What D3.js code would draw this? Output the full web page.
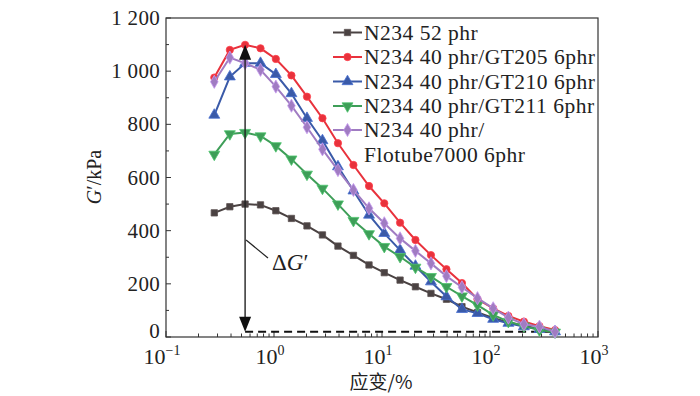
<!DOCTYPE html>
<html><head><meta charset="utf-8">
<script src="https://cdn.jsdelivr.net/npm/d3@7"></script>
<style>body{margin:0;background:#fff}svg{display:block}</style>
</head><body>
<script>
const strain = [0.28, 0.39, 0.54, 0.75, 1.04, 1.45, 2.02, 2.81, 3.91, 5.44, 7.58, 10.5, 14.7, 20.4, 28.4, 39.5, 55.0, 76.6, 107, 148, 206, 287, 400];
const n234_52 = [467, 490, 500, 497, 475, 446, 418, 384, 342, 307, 271, 242, 214, 189, 164, 142, 114, 92, 72, 55, 42, 30, 20];
const gt205 = [976, 1080, 1099, 1086, 1046, 984, 904, 823, 729, 647, 568, 503, 430, 365, 308, 255, 203, 142, 108, 79, 58, 41, 26];
const gt210 = [835, 979, 1030, 1030, 988, 916, 823, 739, 641, 550, 459, 390, 327, 267, 208, 152, 104, 89, 67, 52, 39, 29, 20];
const gt211 = [687, 764, 769, 756, 719, 669, 612, 559, 500, 438, 388, 340, 302, 262, 227, 189, 154, 120, 83, 58, 41, 26, 18];
const flotube = [960, 1051, 1030, 1005, 942, 870, 789, 706, 628, 553, 484, 428, 371, 324, 277, 229, 187, 146, 108, 73, 48, 39, 20];
const seriesNames = ["N234 52 phr", "N234 40 phr/GT205 6phr", "N234 40 phr/GT210 6phr", "N234 40 phr/GT211 6phr", "N234 40 phr/|Flotube7000 6phr"];
const yTicks = [0, 200, 400, 600, 800, 1000, 1200];
const yTickLabels = ["0", "200", "400", "600", "800", "1 000", "1 200"];
const xTicks = [0.1, 1, 10, 100, 1000];
const xTickExp = ["\u22121", "0", "1", "2", "3"];
const baselineG = 20;   // dashed reference level
const arrowStrain = 0.54;

const W = 700, H = 396;
const svg = d3.select("body").append("svg").attr("width", W).attr("height", H);
const x = d3.scaleLog().domain([0.1, 1000]).range([166, 598]);
const y = d3.scaleLinear().domain([0, 1200]).range([337, 18]);
const serif = "'Liberation Serif','Times New Roman',serif";

const series = [
  {v: n234_52, color: "#4a4242", sym: d3.symbolSquare, size: 40, rot: 0},
  {v: gt205, color: "#e8323c", sym: d3.symbolCircle, size: 42, rot: 0},
  {v: gt210, color: "#3a5aa8", sym: d3.symbolTriangle, size: 52, rot: 0},
  {v: gt211, color: "#3e9e58", sym: d3.symbolTriangle, size: 52, rot: 180},
  {v: flotube, color: "#a07cc2", sym: d3.symbolDiamond, size: 50, rot: 0}
];

// axes box
const g = svg.append("g");
g.append("rect").attr("x", 166).attr("y", 18).attr("width", 432).attr("height", 319)
  .attr("fill", "none").attr("stroke", "#333").attr("stroke-width", 1.2);

// y ticks (inward)
const yMinor = d3.range(0, 1201, 100);
g.selectAll(".ytk").data(yMinor).join("line")
  .attr("x1", 166).attr("x2", d => d % 200 === 0 ? 171 : 169)
  .attr("y1", d => y(d)).attr("y2", d => y(d)).attr("stroke", "#333").attr("stroke-width", 1);
g.selectAll(".ytl").data(yTicks).join("text")
  .attr("x", 160).attr("y", d => d === 0 ? y(d) + 1 : y(d) + 7).attr("text-anchor", "end")
  .attr("font-family", serif).attr("font-size", 21).attr("letter-spacing", 0.3).attr("fill", "#222")
  .text((d, i) => yTickLabels[i]);

// x ticks
const xMinor = [];
for (let e = -1; e < 3; e++) for (let k = 1; k <= 9; k++) xMinor.push(k * Math.pow(10, e));
xMinor.push(1000);
g.selectAll(".xtk").data(xMinor).join("line")
  .attr("x1", d => x(d)).attr("x2", d => x(d))
  .attr("y1", 337).attr("y2", d => xTicks.includes(d) ? 331 : 333.5)
  .attr("stroke", "#333").attr("stroke-width", 1);
const xl = g.selectAll(".xtl").data(xTicks).join("text")
  .attr("x", d => x(d) - 4).attr("y", 364).attr("text-anchor", "middle")
  .attr("font-family", serif).attr("font-size", 22).attr("fill", "#222");
xl.append("tspan").text("10");
xl.append("tspan").attr("dy", -9).attr("font-size", 14).text((d, i) => xTickExp[i]);

// axis titles
svg.append("text").attr("transform", "translate(101,177) rotate(-90)")
  .attr("text-anchor", "middle").attr("font-family", serif).attr("font-size", 20).attr("fill", "#222")
  .call(t => { t.append("tspan").attr("font-style", "italic").text("G"); t.append("tspan").text("\u2032/kPa"); });
svg.append("text").attr("x", 381).attr("y", 389).attr("text-anchor", "middle")
  .attr("font-family", "'Noto Sans CJK SC',sans-serif").attr("font-size", 19).attr("fill", "#222").text("应变/%");

// dashed baseline
svg.append("line").attr("x1", x(arrowStrain)).attr("x2", x(400)).attr("y1", y(baselineG)).attr("y2", y(baselineG))
  .attr("stroke", "#111").attr("stroke-width", 2).attr("stroke-dasharray", "8,5");

// series
const line = d3.line().x((d, i) => x(strain[i])).y(d => y(d));
series.forEach(s => {
  svg.append("path").datum(s.v).attr("d", line).attr("fill", "none")
    .attr("stroke", s.color).attr("stroke-width", 2);
  svg.selectAll(null).data(s.v).join("path")
    .attr("d", d3.symbol(s.sym, s.size))
    .attr("transform", (d, i) => `translate(${x(strain[i])},${y(d)}) rotate(${s.rot})`)
    .attr("fill", s.color).attr("stroke", d3.color(s.color).brighter(0.6)).attr("stroke-width", 0.8);
});

// arrow
const ax = x(arrowStrain), yTop = y(d3.max(gt205)), yBot = y(baselineG);
svg.append("line").attr("x1", ax).attr("x2", ax).attr("y1", yTop + 12).attr("y2", yBot - 12)
  .attr("stroke", "#222").attr("stroke-width", 1.4);
svg.append("path").attr("d", `M${ax},${yTop} L${ax - 6},${yTop + 15} L${ax + 6},${yTop + 15} Z`).attr("fill", "#111");
svg.append("path").attr("d", `M${ax},${yBot} L${ax - 6},${yBot - 15} L${ax + 6},${yBot - 15} Z`).attr("fill", "#111");
svg.append("line").attr("x1", ax + 1).attr("y1", 240).attr("x2", 268).attr("y2", 258).attr("stroke", "#222").attr("stroke-width", 1.2);
svg.append("text").attr("x", 272).attr("y", 270).attr("font-family", serif).attr("font-size", 23).attr("fill", "#222")
  .call(t => { t.append("tspan").text("\u0394"); t.append("tspan").attr("font-style", "italic").text("G"); t.append("tspan").text("\u2032"); });

// legend
const rowY = [32.5, 57, 81.5, 106, 130];
series.forEach((s, i) => {
  const yy = rowY[i];
  svg.append("line").attr("x1", 333).attr("x2", 362).attr("y1", yy).attr("y2", yy).attr("stroke", s.color).attr("stroke-width", 2);
  svg.append("path").attr("d", d3.symbol(s.sym, s.size)).attr("transform", `translate(347.5,${yy}) rotate(${s.rot})`)
    .attr("fill", s.color).attr("stroke", d3.color(s.color).brighter(0.6)).attr("stroke-width", 0.8);
  const parts = seriesNames[i].split("|");
  parts.forEach((p, j) => {
    svg.append("text").attr("x", 364).attr("y", yy + 7 + j * 24.5).attr("font-family", serif).attr("font-size", 21.5)
      .attr("letter-spacing", 0.5).attr("fill", "#222").text(p);
  });
});
</script>
</body></html>
